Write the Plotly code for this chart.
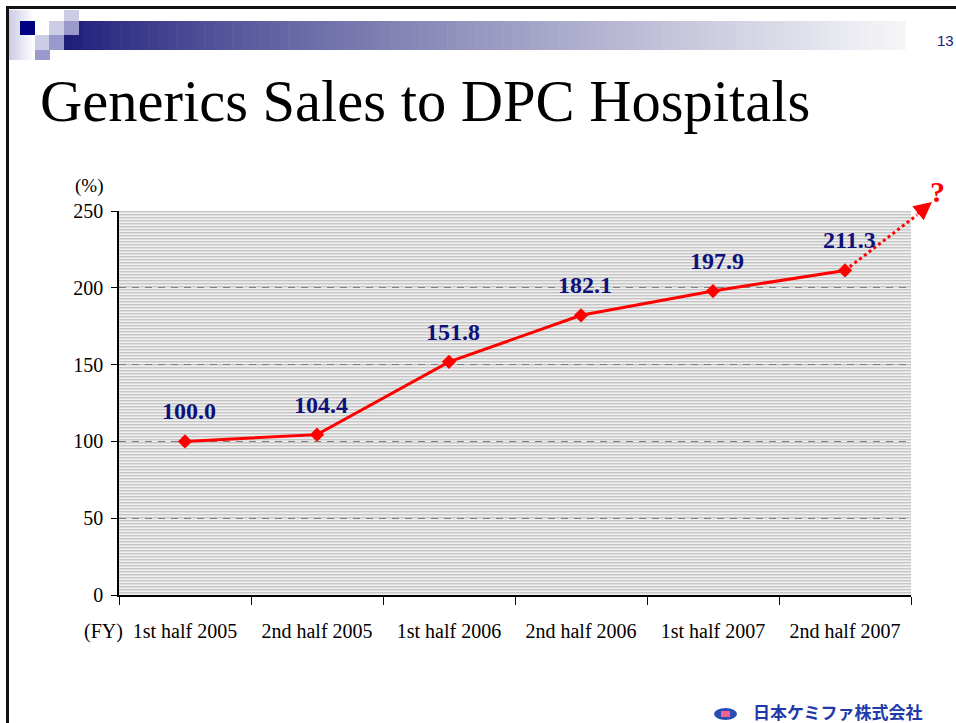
import base64
import plotly.graph_objects as go

# ---------------- data ----------------
categories = ["1st half 2005", "2nd half 2005", "1st half 2006",
              "2nd half 2006", "1st half 2007", "2nd half 2007"]
sales_index = [100.0, 104.4, 151.8, 182.1, 197.9, 211.3]
y_ticks = [0, 50, 100, 150, 200, 250]

title_text = "Generics Sales to DPC Hospitals"
company_text = "日本ケミファ株式会社"
page_no = "13"

# ---------------- geometry helpers (decoration only) ----------------
W, H = 956, 723
L, R, T, B = 119, 911, 211, 595
PW, PH = R - L, B - T
SERIF = "Liberation Serif, Times New Roman, serif"


def fx(px):
    return (px - L) / PW


def fy(py):
    return (B - py) / PH


def rect(x0, y0, x1, y1, color):
    return dict(type="rect", xref="paper", yref="paper",
                x0=fx(x0), x1=fx(x1), y0=fy(y1), y1=fy(y0),
                fillcolor=color, line=dict(width=0), layer="above")


def label(px, py, text, font, xanchor="center", yanchor="middle"):
    return dict(xref="paper", yref="paper", x=fx(px), y=fy(py), text=text,
                showarrow=False, xanchor=xanchor, yanchor=yanchor, font=font)


fig = go.Figure()

fig.add_trace(go.Scatter(
    x=categories, y=sales_index, mode="lines+markers",
    line=dict(color="#ff0000", width=3),
    marker=dict(symbol="diamond", size=11, color="#ff0000"),
    hoverinfo="skip", showlegend=False, cliponaxis=False,
))

shapes = []
annotations = []

# slide border
shapes.append(rect(6, 6, W + 2, 9, "#111111"))
shapes.append(rect(6, 6, 9, H + 2, "#111111"))

# header gradient bar
x_start, x_end = 64, 905
n = 90
c0 = (26, 26, 120)
c1 = (246, 246, 248)
for i in range(n):
    a = x_start + (x_end - x_start) * i / n
    b = x_start + (x_end - x_start) * (i + 1) / n + 0.6
    t = ((i + 0.5) / n) ** 0.8
    c = tuple(int(round(c0[k] + (c1[k] - c0[k]) * t)) for k in range(3))
    shapes.append(rect(a, 21, b, 50, "rgb(%d,%d,%d)" % c))
# small left gradient
for i in range(8):
    a = 9 + 26 * i / 8
    b = 9 + 26 * (i + 1) / 8 + 0.5
    t = i / 7
    v = (int(205 + 50 * t), int(205 + 50 * t), int(232 + 23 * t))
    shapes.append(rect(a, 10, b, 60, "rgb(%d,%d,%d)" % v))
# decorative squares
LIGHT, MID, NAVY = "#ccccE6", "#9999CC", "#000080"
shapes += [
    rect(20, 21, 35, 35, NAVY),
    rect(35, 21, 49, 35, "#ffffff"),
    rect(64, 10, 79, 21, LIGHT),
    rect(49, 21, 64, 35, LIGHT),
    rect(64, 21, 79, 35, MID),
    rect(35, 35, 49, 50, LIGHT),
    rect(49, 35, 64, 50, MID),
    rect(35, 50, 50, 60, MID),
]

# company logo
shapes.append(dict(type="circle", xref="paper", yref="paper",
                   x0=fx(714), x1=fx(737), y0=fy(720), y1=fy(708),
                   fillcolor="#2a4db5", line=dict(width=0)))
shapes.append(rect(721, 711, 730, 717, "#f06090"))

# dotted extension + arrow (from last data point, beyond plot area)
last_i = len(categories) - 1
x_last = (last_i + 0.5) / len(categories)
y_last = sales_index[-1] / y_ticks[-1]
shapes.append(dict(type="line", xref="x domain", yref="y domain",
                   x0=x_last, y0=y_last, x1=fx(917), y1=fy(215),
                   line=dict(color="#ff0000", width=3, dash="dot")))
annotations.append(dict(xref="paper", yref="paper", x=fx(932), y=fy(202),
                        text="", showarrow=True, arrowhead=2, arrowsize=1.2,
                        arrowwidth=3, arrowcolor="#ff0000", ax=-16, ay=13,
                        standoff=0))
annotations.append(label(937, 191, "<b>?</b>",
                         dict(family=SERIF, size=30, color="#ff0000")))

# data labels
for c, v in zip(categories, sales_index):
    annotations.append(dict(x=c, y=v, text="<b>%.1f</b>" % v, showarrow=False,
                            xshift=4, yshift=30, xanchor="center",
                            yanchor="middle",
                            font=dict(family=SERIF, size=24, color="#10107a")))

# title & texts
annotations.append(label(38, 102, title_text,
                         dict(family=SERIF, size=58.5, color="#000000"),
                         xanchor="left"))
annotations.append(label(945, 40, page_no,
                         dict(family="Liberation Sans, Arial, sans-serif",
                              size=15, color="#1a1a80")))
annotations.append(label(89, 186, "(%)",
                         dict(family=SERIF, size=19, color="#000000")))
annotations.append(label(103, 631, "(FY)",
                         dict(family=SERIF, size=20, color="#000000")))
annotations.append(label(751, 711, "<b>" + company_text + "</b>",
                         dict(family="Noto Sans CJK JP", size=17,
                              color="#1e3aa8"), xanchor="left"))

# striped plot background as an SVG image
rows = ['<rect x="0" y="0" width="8" height="1" fill="#c6c6c6"/>',
        '<rect x="0" y="1" width="8" height="1" fill="#dedede"/>',
        '<rect x="0" y="2" width="8" height="1" fill="#f0f0f0"/>']
svg = ('<svg xmlns="http://www.w3.org/2000/svg" width="%d" height="%d" '
       'shape-rendering="crispEdges"><defs><pattern id="p" width="8" height="3" '
       'patternUnits="userSpaceOnUse">%s</pattern></defs>'
       '<rect width="%d" height="%d" fill="url(#p)"/></svg>'
       % (PW, PH, "".join(rows), PW, PH))
src = "data:image/svg+xml;base64," + base64.b64encode(svg.encode()).decode()

fig.update_layout(
    width=W, height=H, autosize=False,
    margin=dict(l=L, r=W - R, t=T, b=H - B, pad=0),
    paper_bgcolor="#ffffff", plot_bgcolor="#dedede",
    shapes=shapes, annotations=annotations,
    images=[dict(source=src, xref="paper", yref="paper", x=0, y=1,
                 sizex=1, sizey=1, sizing="stretch", layer="below",
                 xanchor="left", yanchor="top")],
    showlegend=False,
    font=dict(family=SERIF, color="#000000"),
)
fig.update_xaxes(
    type="category", categoryorder="array", categoryarray=categories,
    range=[-0.5, len(categories) - 0.5],
    tickson="boundaries", ticks="outside", ticklen=8, tickcolor="#000000",
    showgrid=False, showline=True, linecolor="#000000", linewidth=1.5,
    tickfont=dict(family=SERIF, size=20, color="#000000"),
    ticklabelstandoff=17, zeroline=False,
)
fig.update_yaxes(
    range=[y_ticks[0], y_ticks[-1]], tickvals=y_ticks,
    ticks="outside", ticklen=6, tickcolor="#000000",
    showline=True, linecolor="#000000", linewidth=1.5,
    showgrid=True, gridcolor="#808080", gridwidth=1, griddash="7px,6px",
    zeroline=False,
    tickfont=dict(family=SERIF, size=20, color="#000000"),
    ticklabelstandoff=4,
)

fig.write_html("out.html", config={"displayModeBar": False},
               post_script="document.body.style.margin='0px';"
                           "document.body.style.overflow='hidden';")
